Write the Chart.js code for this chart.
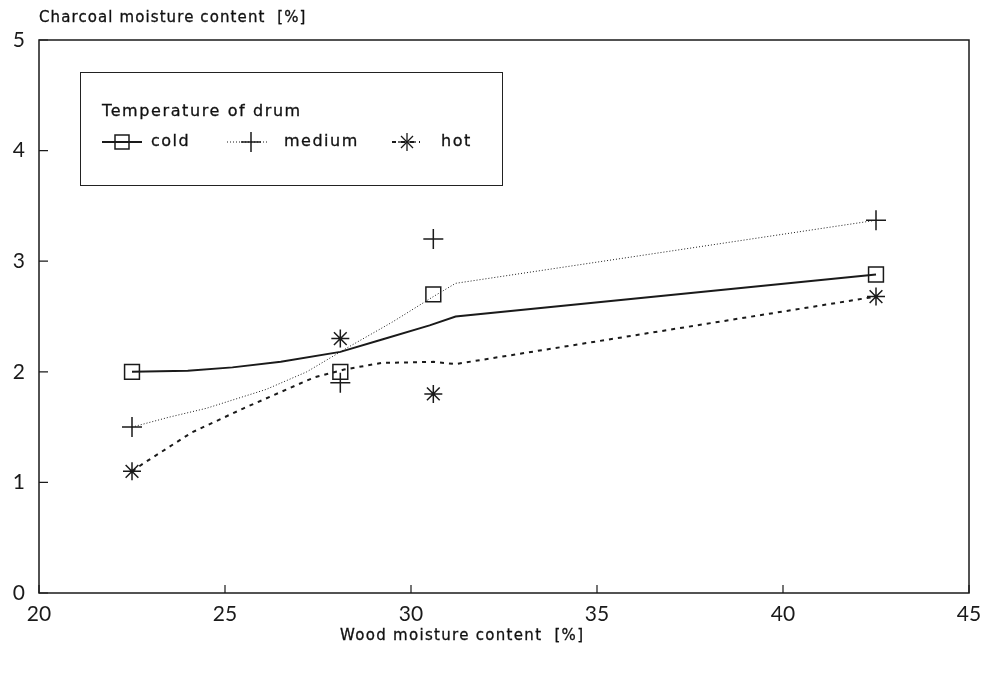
<!DOCTYPE html>
<html>
<head>
<meta charset="utf-8">
<script src="https://cdn.jsdelivr.net/npm/chart.js@4"></script>
<style>
  body { margin: 0; background: #fff; }
  #wrap { position: relative; width: 993px; height: 675px; }
  .lbl { position: absolute; font-family: "DejaVu Sans", sans-serif; color: #111; white-space: pre; -webkit-text-stroke: 0.3px #111; }
  #ytitle { left: 39px; top: 8px; font-size: 15px; letter-spacing: 1.1px; }
  #xtitle { left: 340px; top: 626px; font-size: 15px; letter-spacing: 1.3px; }
  #legend { position: absolute; left: 80px; top: 72px; width: 421px; height: 112px;
            border: 1.5px solid #222; font-family: "DejaVu Sans", sans-serif; color: #111; -webkit-text-stroke: 0.3px #111; }
  #legend .t { position: absolute; left: 21px; top: 28px; font-size: 16px; letter-spacing: 1.6px; }
  #legend svg { position: absolute; left: 0; top: 55px; }
  #legend .e { position: absolute; top: 58px; font-size: 16px; letter-spacing: 1.5px; }
</style>
</head>
<body>
<div id="wrap">
  <canvas id="chart" width="993" height="675"></canvas>
  <div class="lbl" id="ytitle">Charcoal moisture content  [%]</div>
  <div class="lbl" id="xtitle">Wood moisture content  [%]</div>
  <div id="legend">
    <div class="t">Temperature of drum</div>
    <svg width="421" height="30" stroke="#1a1a1a" fill="none">
      <line x1="21" y1="14" x2="61" y2="14" stroke-width="2"/>
      <rect x="34" y="7" width="14" height="14" stroke-width="1.5"/>
      <line x1="146" y1="14" x2="188" y2="14" stroke-width="1" stroke-dasharray="1 2"/>
      <line x1="160" y1="14" x2="180" y2="14" stroke-width="1.5"/>
      <line x1="170" y1="4" x2="170" y2="24" stroke-width="1.5"/>
      <line x1="311" y1="14" x2="339" y2="14" stroke-width="2" stroke-dasharray="4 5"/>
      <g stroke-width="1.3">
        <line x1="317" y1="14" x2="335" y2="14"/>
        <line x1="326" y1="5" x2="326" y2="23"/>
        <line x1="320" y1="8" x2="332" y2="20"/>
        <line x1="320" y1="20" x2="332" y2="8"/>
      </g>
    </svg>
    <div class="e" style="left:70px">cold</div>
    <div class="e" style="left:203px">medium</div>
    <div class="e" style="left:360px">hot</div>
  </div>
</div>
<script>
// measured points
const woodMoisture = [22.5, 28.1, 30.6, 42.5];
const coldPts = [2.0, 2.0, 2.7, 2.88];
const mediumPts = [1.5, 1.9, 3.2, 3.37];
const hotPts = [1.1, 2.3, 1.8, 2.68];

// fitted curves
const coldFitX = [22.5, 24, 25.2, 26.5, 28.1, 29.2, 30.5, 31.2, 42.5];
const coldFitY = [2.0, 2.01, 2.04, 2.09, 2.18, 2.29, 2.42, 2.5, 2.88];
const mediumFitX = [22.5, 23.5, 24.5, 26.1, 27.2, 28.3, 29.5, 30.6, 31.2, 42.5];
const mediumFitY = [1.5, 1.59, 1.67, 1.84, 2.0, 2.22, 2.45, 2.68, 2.8, 3.37];
const hotFitX = [22.5, 22.8, 24.1, 25.5, 27.4, 28.2, 29.2, 30.6, 31.2, 42.5];
const hotFitY = [1.1, 1.17, 1.45, 1.67, 1.95, 2.02, 2.08, 2.09, 2.07, 2.68];

const xTicks = [20, 25, 30, 35, 40, 45];
const yTicks = [0, 1, 2, 3, 4, 5];

const ink = '#1a1a1a';

function pairs(xs, ys) {
    return xs.map((x, i) => ({ x: x, y: ys[i] }));
}

function fitLine(xs, ys, width, dash) {
    return {
        type: 'line',
        data: pairs(xs, ys),
        borderColor: ink,
        borderWidth: width,
        borderDash: dash,
        pointRadius: 0,
        tension: 0,
        fill: false
    };
}

function markers(ys, style, radius) {
    return {
        type: 'scatter',
        data: pairs(woodMoisture, ys),
        pointStyle: style,
        pointRadius: radius,
        pointBorderColor: ink,
        pointBackgroundColor: 'rgba(0,0,0,0)',
        pointBorderWidth: 1.5,
        showLine: false
    };
}

// frame round the plot and inward tick marks
const framePlugin = {
    id: 'frame',
    afterDatasetsDraw(chart) {
        const { ctx, chartArea: a, scales } = chart;
        ctx.save();
        ctx.strokeStyle = ink;
        ctx.lineWidth = 1.5;
        ctx.strokeRect(a.left, a.top, a.right - a.left, a.bottom - a.top);
        ctx.lineWidth = 1.2;
        ctx.beginPath();
        for (const v of xTicks) {
            const px = scales.x.getPixelForValue(v);
            ctx.moveTo(px, a.bottom);
            ctx.lineTo(px, a.bottom - 8);
        }
        for (const v of yTicks) {
            const py = scales.y.getPixelForValue(v);
            ctx.moveTo(a.left, py);
            ctx.lineTo(a.left + 9, py);
        }
        ctx.stroke();
        ctx.restore();
    }
};

new Chart(document.getElementById('chart'), {
    data: {
        datasets: [
            fitLine(coldFitX, coldFitY, 2, []),
            fitLine(mediumFitX, mediumFitY, 1, [1, 2]),
            fitLine(hotFitX, hotFitY, 2, [4, 5]),
            markers(coldPts, 'rect', 10.5),
            markers(mediumPts, 'cross', 10),
            markers(hotPts, 'star', 9)
        ]
    },
    options: {
        responsive: false,
        devicePixelRatio: 1,
        animation: false,
        layout: { padding: { top: 40, right: 24, bottom: 0, left: 0 } },
        plugins: { legend: { display: false }, tooltip: { enabled: false } },
        scales: {
            x: {
                type: 'linear',
                min: 20,
                max: 45,
                afterFit: s => { s.height = 82; },
                afterBuildTicks: s => { s.ticks = xTicks.map(v => ({ value: v })); },
                grid: { display: false, drawTicks: false },
                border: { display: false },
                ticks: { color: ink, padding: 9, font: { family: 'Lato', size: 21 } }
            },
            y: {
                type: 'linear',
                min: 0,
                max: 5,
                afterFit: s => { s.width = 39; },
                afterBuildTicks: s => { s.ticks = yTicks.map(v => ({ value: v })); },
                grid: { display: false, drawTicks: false },
                border: { display: false },
                ticks: { color: ink, padding: 14, font: { family: 'Lato', size: 21 } }
            }
        }
    },
    plugins: [framePlugin]
});
</script>
</body>
</html>
